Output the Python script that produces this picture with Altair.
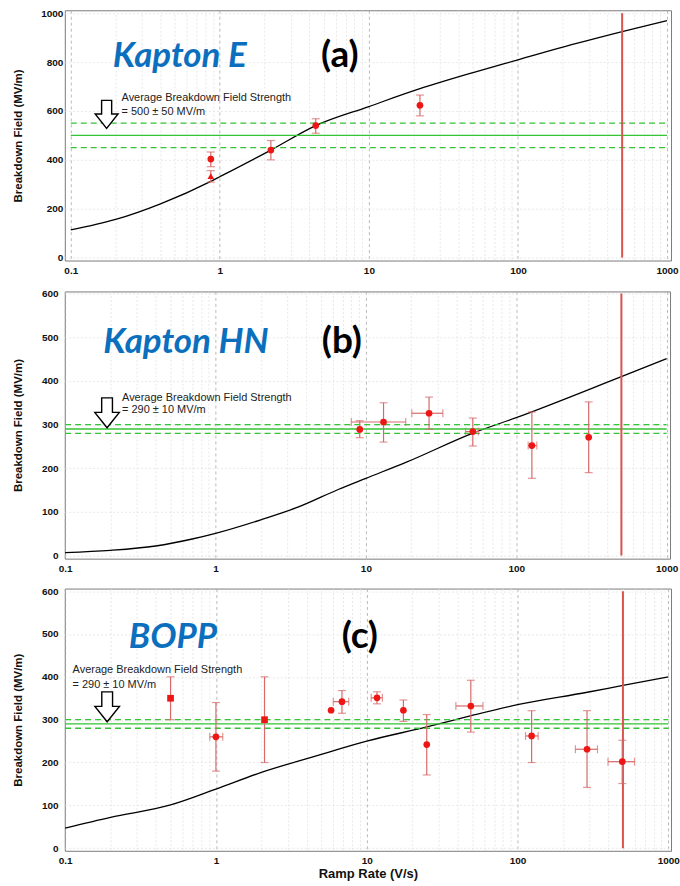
import altair as alt
import pandas as pd

# ---------------- data ----------------
ramp_limit = 500  # V/s, vertical red line

# (a) Kapton E
a_x = [0.87, 0.87, 2.2, 4.4, 22]
a_y = [403, 333, 440, 540, 623]
a_lo = [372, 309, 400, 509, 580]
a_hi = [432, 356, 479, 568, 665]
a_xlo = [None, None, None, None, None]
a_xhi = [None, None, None, None, None]
a_kind = ["dot", "tri", "dot", "dot", "dot"]
a_fit_x = [0.1, 0.2, 0.4, 0.87, 1, 2.2, 4.4, 10, 22, 50, 100, 229, 500, 1000]
a_fit_y = [113, 156, 220, 312, 331, 440, 540, 618, 691, 757, 809, 871, 925, 970]
a_avg, a_err = 500, 50

# (b) Kapton HN
b_x = [9.1, 13.1, 26.3, 51.4, 127, 303]
b_y = [289, 306, 326, 284, 252, 271]
b_lo = [270, 260, 289, 251, 177, 190]
b_hi = [309, 350, 363, 315, 329, 352]
b_xlo = [None, 8.0, 20.2, 46, 120, None]
b_xhi = [None, 18.4, 32.5, 56, 137, None]
b_kind = ["dot"] * 6
b_fit_x = [0.1, 0.2, 0.4, 0.7, 1, 2, 3.6, 6.6, 10, 18.6, 51, 100, 500, 1000]
b_fit_y = [7, 12, 22, 38, 51, 82, 112, 152, 177, 214, 280, 316, 410, 451]
b_avg, b_err = 290, 10

# (c) BOPP
c_x = [0.5, 1.0, 2.1, 5.8, 6.85, 11.7, 17.5, 25, 49, 124, 289, 495]
c_y = [350, 260, 300, 322, 342, 351, 322, 242, 332, 262, 231, 202]
c_lo = [300, 180, 200, None, 315, 337, 296, 171, 271, 200, 142, 151]
c_hi = [400, 340, 400, None, 368, 365, 346, 312, 392, 321, 321, 252]
c_xlo = [None, 0.91, None, None, 6.0, 10.7, None, None, 39, 113, 242, 398]
c_xhi = [None, 1.11, None, None, 7.6, 12.7, None, None, 59, 137, 339, 597]
c_kind = ["sq", "dot", "sq", "dot", "dot", "dot", "dot", "dot", "dot", "dot", "dot", "dot"]
c_fit_x = [0.1, 0.2, 0.5, 1, 2, 5, 6.6, 10, 25, 50, 100, 290, 500, 1000]
c_fit_y = [47, 72, 101, 138, 177, 219, 232, 250, 283, 310, 335, 364, 380, 400]
c_avg, c_err = 290, 10

x_grid = [m * d for d in [0.1, 1, 10, 100] for m in range(1, 10)] + [1000]

# ---------------- styling ----------------
RED = "#ee1515"
ERR = "#d66a6a"
GREEN = "#35c435"
BLUE = "#0b6fbe"
AXFONT = "Liberation Sans"
TFONT = "Lato"

major_test = "abs(log(datum.value)/LN10 - round(log(datum.value)/LN10)) < 0.01"


def panel(x, y, lo, hi, xlo, xhi, kind, fx, fy, avg, err, vmax, step,
          xdom, ydom, w, h, name, tag, name_pos, tag_pos, note_x, note_y,
          arrow_pos, arrow_px, xtitle, ytp, ylp):
    pts = pd.DataFrame({"x": x, "y": y, "lo": lo, "hi": hi,
                        "xlo": xlo, "xhi": xhi, "kind": kind})
    yerr = pts.dropna(subset=["lo", "hi"])
    xerr = pts.dropna(subset=["xlo", "xhi"])
    fit = pd.DataFrame({"x": fx, "y": fy})

    xaxis = alt.Axis(
        values=x_grid, format="~g",
        labelExpr="indexof([0.1,1,10,100,1000], datum.value) >= 0 ? datum.label : ''",
        grid=True,
        gridColor={"condition": {"test": major_test, "value": "#a8a8a8"}, "value": "#e2e2e2"},
        gridDash={"condition": {"test": major_test, "value": [3, 3]}, "value": [2, 2]},
        gridWidth=0.8,
        ticks=False, tickSize=0, domain=False,
        labelFont=AXFONT, labelFontWeight="bold", labelFontSize=10, labelColor="#111",
        labelPadding=5, labelFlush=False, labelOverlap=False,
        title=xtitle, titleFont=AXFONT, titleFontWeight="bold", titleFontSize=13,
        titleColor="#111", titlePadding=2,
    )
    yaxis = alt.Axis(
        values=list(range(0, vmax + 1, step)), format="d", grid=True, gridColor="#e2e2e2",
        gridDash=[2, 2], gridWidth=0.8, ticks=False, tickSize=0, domain=False,
        labelFont=AXFONT, labelFontWeight="bold", labelFontSize=10, labelColor="#111",
        labelPadding=ylp, labelFlush=False,
        title="Breakdown Field (MV/m)", titleFont=AXFONT, titleFontWeight="bold",
        titleFontSize=11.5, titleColor="#111", titlePadding=ytp,
    )
    X = alt.X("x:Q", scale=alt.Scale(type="log", domain=xdom, nice=False), axis=xaxis)
    Y = alt.Y("y:Q", scale=alt.Scale(domain=ydom, nice=False, zero=False), axis=yaxis)

    curve = alt.Chart(fit).mark_line(color="black", strokeWidth=1.3,
                                     interpolate="monotone").encode(x=X, y=Y)

    avg_solid = alt.Chart(pd.DataFrame({"y": [avg]})).mark_rule(
        color=GREEN, strokeWidth=1.3).encode(x=alt.datum(0.1), x2=alt.datum(1000), y="y:Q")
    avg_dash = alt.Chart(pd.DataFrame({"y": [avg - err, avg + err]})).mark_rule(
        color=GREEN, strokeWidth=1.3, strokeDash=[6, 4]).encode(
        x=alt.datum(0.1), x2=alt.datum(1000), y="y:Q")

    vline = alt.Chart(pd.DataFrame({"x": [ramp_limit]})).mark_rule(
        color="#d9534f", strokeWidth=2).encode(x="x:Q", y=alt.datum(0), y2=alt.datum(vmax))

    ybar = alt.Chart(yerr).mark_rule(color=ERR, strokeWidth=1.2).encode(
        x="x:Q", y="lo:Q", y2="hi:Q")
    ycap_lo = alt.Chart(yerr).mark_tick(color=ERR, orient="horizontal", size=8,
                                        thickness=1.2).encode(x="x:Q", y="lo:Q")
    ycap_hi = alt.Chart(yerr).mark_tick(color=ERR, orient="horizontal", size=8,
                                        thickness=1.2).encode(x="x:Q", y="hi:Q")
    layers = [curve, avg_dash, avg_solid, vline, ybar, ycap_lo, ycap_hi]
    if len(xerr):
        xbar = alt.Chart(xerr).mark_rule(color=ERR, strokeWidth=1.2).encode(
            x="xlo:Q", x2="xhi:Q", y="y:Q")
        xcap_lo = alt.Chart(xerr).mark_tick(color=ERR, orient="vertical", size=8,
                                            thickness=1.2).encode(x="xlo:Q", y="y:Q")
        xcap_hi = alt.Chart(xerr).mark_tick(color=ERR, orient="vertical", size=8,
                                            thickness=1.2).encode(x="xhi:Q", y="y:Q")
        layers += [xbar, xcap_lo, xcap_hi]

    points = alt.Chart(pts).mark_point(filled=True, color=RED, opacity=1, size=45).encode(
        x="x:Q", y="y:Q",
        shape=alt.Shape("kind:N", scale=alt.Scale(domain=["dot", "tri", "sq"],
                                                  range=["circle", "triangle-up", "square"]),
                        legend=None))
    layers.append(points)

    name_t = alt.Chart().mark_text(text=name, font=TFONT, fontSize=35, fontWeight="bold",
                                   fontStyle="italic", color=BLUE, align="left",
                                   baseline="middle").encode(
        x=alt.datum(name_pos[0]), y=alt.datum(name_pos[1]))
    tag_t = alt.Chart().mark_text(text=tag, font=TFONT, fontSize=37, fontWeight="bold",
                                  color="black", align="left", baseline="middle").encode(
        x=alt.datum(tag_pos[0]), y=alt.datum(tag_pos[1]))
    note1 = alt.Chart().mark_text(text="Average Breakdown Field Strength", font=AXFONT,
                                  fontSize=11, color="#222", align="left",
                                  baseline="middle").encode(
        x=alt.datum(note_x), y=alt.datum(note_y[0]))
    note2 = alt.Chart().mark_text(text=f"= {avg} \u00b1 {err} MV/m", font=AXFONT,
                                  fontSize=11, color="#222", align="left",
                                  baseline="middle").encode(
        x=alt.datum(note_x), y=alt.datum(note_y[1]))
    arrow_path = "M-0.36,-1L0.36,-1L0.36,-0.03L0.82,-0.03L0,1L-0.82,-0.03L-0.36,-0.03Z"
    arrow = alt.Chart().mark_point(shape=arrow_path, filled=True, fill="white",
                                   stroke="black", strokeWidth=1.4, opacity=1,
                                   size=arrow_px ** 2).encode(
        x=alt.datum(arrow_pos[0]), y=alt.datum(arrow_pos[1]))
    layers += [name_t, tag_t, note1, note2, arrow]

    return alt.layer(*layers).properties(width=w, height=h)


# all three plot areas share the same left edge in a vconcat
pa = panel(a_x, a_y, a_lo, a_hi, a_xlo, a_xhi, a_kind, a_fit_x, a_fit_y, a_avg, a_err,
           1000, 200, [0.0912, 1064], [-12, 1012], 608, 251,
           "Kapton E", "(a)", (0.191, 824), (4.78, 824), 0.219, (653, 596),
           (0.174, 586), 28, None, 17, 2)
pb = panel(b_x, b_y, b_lo, b_hi, b_xlo, b_xhi, b_kind, b_fit_x, b_fit_y, b_avg, b_err,
           600, 100, [0.0995, 1053], [-7, 605], 607, 268,
           "Kapton HN", "(b)", (0.179, 489), (5.09, 489), 0.239, (362, 333),
           (0.19, 327), 30, None, 18, 6.7)
pc = panel(c_x, c_y, c_lo, c_hi, c_xlo, c_xhi, c_kind, c_fit_x, c_fit_y, c_avg, c_err,
           600, 100, [0.0995, 1042], [-6, 606], 608, 263,
           "BOPP", "(c)", (0.264, 493), (6.82, 493), 0.112, (415, 382),
           (0.19, 330), 30, "Ramp Rate (V/s)", 18, 6.7)

top = alt.vconcat(pa, pb, spacing=11)
chart = alt.vconcat(top, pc, spacing=11).properties(
    padding={"left": 12, "top": 6, "right": 0, "bottom": 0},
    background="white",
).configure_view(stroke="#7a7a7a", strokeWidth=1)

chart.save("out.html", embed_options={"renderer": "svg", "actions": False})
